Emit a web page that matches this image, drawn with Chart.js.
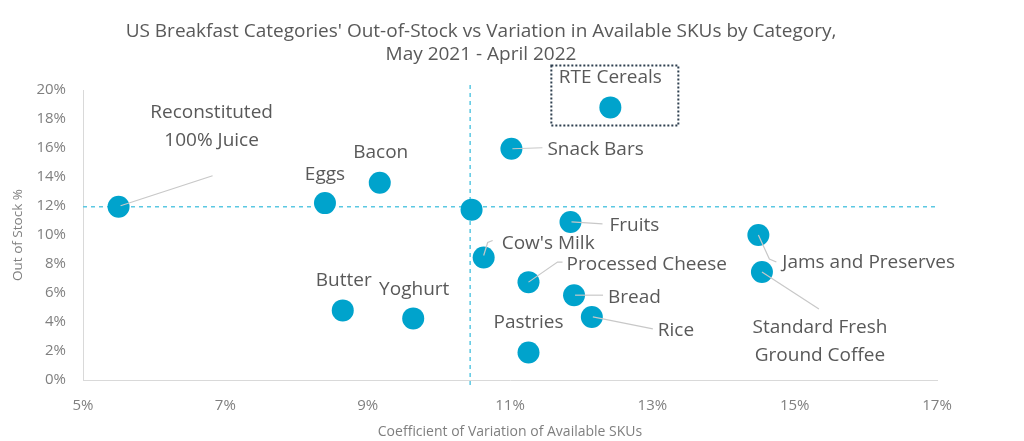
<!DOCTYPE html>
<html>
<head>
<meta charset="utf-8">
<script src="https://cdn.jsdelivr.net/npm/chart.js@4/dist/chart.umd.min.js"></script>
<style>
  body { margin: 0; background: #fff; }
  .g-container { width: 1024px; height: 441px; }
</style>
</head>
<body>
<div class="g-container"><canvas id="myChart"></canvas></div>
<script>
// values (percent)
var categories = ['Reconstituted 100% Juice', 'Eggs', 'Bacon', 'Total Breakfast', 'Snack Bars', 'RTE Cereals', 'Fruits',
    "Cow's Milk", 'Processed Cheese', 'Bread', 'Rice', 'Pastries', 'Butter', 'Yoghurt', 'Jams and Preserves',
    'Standard Fresh Ground Coffee']
var cvSkus = [5.5, 8.4, 9.17, 10.46, 11.02, 12.41, 11.85, 10.63, 11.26, 11.9, 12.15, 11.26, 8.65, 9.64, 14.49, 14.54]
var outOfStock = [11.95, 12.2, 13.6, 11.75, 15.95, 18.8, 10.9, 8.45, 6.75, 5.85, 4.35, 1.9, 4.8, 4.25, 10.0, 7.45]
var avgCv = 10.44
var avgOos = 11.95
var xTicks = [5, 7, 9, 11, 13, 15, 17]
var yTicks = [0, 2, 4, 6, 8, 10, 12, 14, 16, 18, 20]

// how each label sits next to its bubble (pixels from the bubble centre)
var labelPos = [
    { lines: ['Reconstituted', '100% Juice'], dx: 93, dy: -94, align: 'center', leader: [[2, -1], [94, -31]] },
    { lines: ['Eggs'], dx: 0, dy: -29, align: 'center' },
    { lines: ['Bacon'], dx: 1, dy: -30, align: 'center' },
    null,
    { lines: ['Snack Bars'], dx: 36, dy: 1, align: 'left', leader: [[1, 0], [31, -1]] },
    { lines: ['RTE Cereals'], dx: 0, dy: -30, align: 'center', box: [-59, -42, 68, 18] },
    { lines: ['Fruits'], dx: 39, dy: 4, align: 'left', leader: [[1, 0], [32, 2]] },
    { lines: ["Cow's Milk"], dx: 18, dy: -14, align: 'left', leader: [[0, -2], [4, -15], [9, -17]] },
    { lines: ['Processed Cheese'], dx: 38, dy: -18, align: 'left', leader: [[0, 0], [29, -20], [34, -20]] },
    { lines: ['Bread'], dx: 34, dy: 2, align: 'left', leader: [[1, 0], [29, 0]] },
    { lines: ['Rice'], dx: 66, dy: 14, align: 'left', leader: [[1, 0], [61, 12]] },
    { lines: ['Pastries'], dx: 0, dy: -30, align: 'center' },
    { lines: ['Butter'], dx: 1, dy: -30, align: 'center' },
    { lines: ['Yoghurt'], dx: 1, dy: -29, align: 'center' },
    { lines: ['Jams and Preserves'], dx: 24, dy: 28, align: 'left', leader: [[0, 0], [11, 24], [18, 27]] },
    { lines: ['Standard Fresh', 'Ground Coffee'], dx: 58, dy: 56, align: 'center', leader: [[0, 0], [57, 37]] }
]

var points = []
for (var i = 0; i < categories.length; i++) {
    points.push({ x: cvSkus[i], y: outOfStock[i] })
}

var fam = '"Open Sans", "Noto Sans", sans-serif'
var labelFont = '19px ' + fam
var textGray = '#595959'

var extras = {
    id: 'extras',
    beforeDatasetsDraw: function (chart) {
        var ctx = chart.ctx
        var xs = chart.scales.x, ys = chart.scales.y
        var a = chart.chartArea
        var px = xs.getPixelForValue(avgCv)
        var py = ys.getPixelForValue(avgOos)
        ctx.save()
        ctx.strokeStyle = '#5bc8e2'
        ctx.lineWidth = 1.5
        ctx.setLineDash([4, 4])
        ctx.beginPath()
        ctx.moveTo(px, a.top - 5)
        ctx.lineTo(px, a.bottom + 8)
        ctx.moveTo(a.left, py)
        ctx.lineTo(a.right, py)
        ctx.stroke()
        ctx.restore()
    },
    afterDatasetsDraw: function (chart) {
        var ctx = chart.ctx
        var meta = chart.getDatasetMeta(0)
        ctx.save()
        ctx.font = labelFont
        ctx.fillStyle = textGray
        ctx.textBaseline = 'middle'
        for (var i = 0; i < labelPos.length; i++) {
            var lp = labelPos[i]
            if (!lp) continue
            var el = meta.data[i]
            var cx = el.x, cy = el.y
            if (lp.leader) {
                ctx.strokeStyle = '#c8c8c8'
                ctx.lineWidth = 1.2
                ctx.setLineDash([])
                ctx.beginPath()
                ctx.moveTo(cx + lp.leader[0][0], cy + lp.leader[0][1])
                for (var k = 1; k < lp.leader.length; k++) {
                    ctx.lineTo(cx + lp.leader[k][0], cy + lp.leader[k][1])
                }
                ctx.stroke()
            }
            if (lp.box) {
                ctx.strokeStyle = '#2f4050'
                ctx.lineWidth = 2
                ctx.setLineDash([2, 2])
                ctx.strokeRect(cx + lp.box[0], cy + lp.box[1], lp.box[2] - lp.box[0], lp.box[3] - lp.box[1])
                ctx.setLineDash([])
            }
            ctx.textAlign = lp.align
            for (var j = 0; j < lp.lines.length; j++) {
                ctx.fillText(lp.lines[j], cx + lp.dx, cy + lp.dy + j * 28)
            }
        }
        ctx.restore()
    },
    afterDraw: function (chart) {
        var ctx = chart.ctx
        ctx.save()
        ctx.font = '19px ' + fam
        ctx.fillStyle = textGray
        ctx.textAlign = 'center'
        ctx.textBaseline = 'middle'
        ctx.fillText("US Breakfast Categories' Out-of-Stock vs Variation in Available SKUs by Category,", 481, 32)
        ctx.fillText('May 2021 - April 2022', 481, 55)
        ctx.restore()
    }
}

var ctx = document.getElementById('myChart').getContext('2d')
var myChart = new Chart(ctx, {
    type: 'scatter',
    data: {
        datasets: [{
            label: 'categories',
            data: points,
            backgroundColor: '#00a3cc',
            borderColor: '#00a3cc',
            borderWidth: 0,
            pointRadius: 11,
            pointHoverRadius: 11
        }]
    },
    options: {
        responsive: true,
        maintainAspectRatio: false,
        animation: false,
        layout: { padding: { top: 90, right: 87, left: 0, bottom: 0 } },
        plugins: {
            legend: { display: false },
            tooltip: { enabled: false }
        },
        scales: {
            x: {
                type: 'linear',
                min: 5,
                max: 17,
                afterBuildTicks: function (s) { s.ticks = xTicks.map(function (v) { return { value: v } }) },
                afterFit: function (s) { s.height = 61 },
                ticks: {
                    color: '#7f7f7f',
                    font: { size: 15, family: fam },
                    padding: 17,
                    maxRotation: 0,
                    callback: function (v) { return v + '%' }
                },
                grid: { display: false, drawTicks: false },
                border: { color: '#d9d9d9', width: 1 },
                title: {
                    display: true,
                    text: 'Coefficient of Variation of Available SKUs',
                    color: '#7f7f7f',
                    font: { size: 14, family: fam },
                    padding: { top: 0, bottom: 1 }
                }
            },
            y: {
                min: 0,
                max: 20,
                afterBuildTicks: function (s) { s.ticks = yTicks.map(function (v) { return { value: v } }) },
                afterFit: function (s) { s.width = 83 },
                ticks: {
                    color: '#7f7f7f',
                    font: { size: 15, family: fam },
                    padding: 17,
                    callback: function (v) { return v + '%' }
                },
                grid: { display: false, drawTicks: false },
                border: { color: '#d9d9d9', width: 1 },
                title: {
                    display: true,
                    text: 'Out of Stock %',
                    color: '#7f7f7f',
                    font: { size: 13.5, family: fam },
                    padding: { top: 10, bottom: 0 }
                }
            }
        }
    },
    plugins: [extras]
})
</script>
</body>
</html>
